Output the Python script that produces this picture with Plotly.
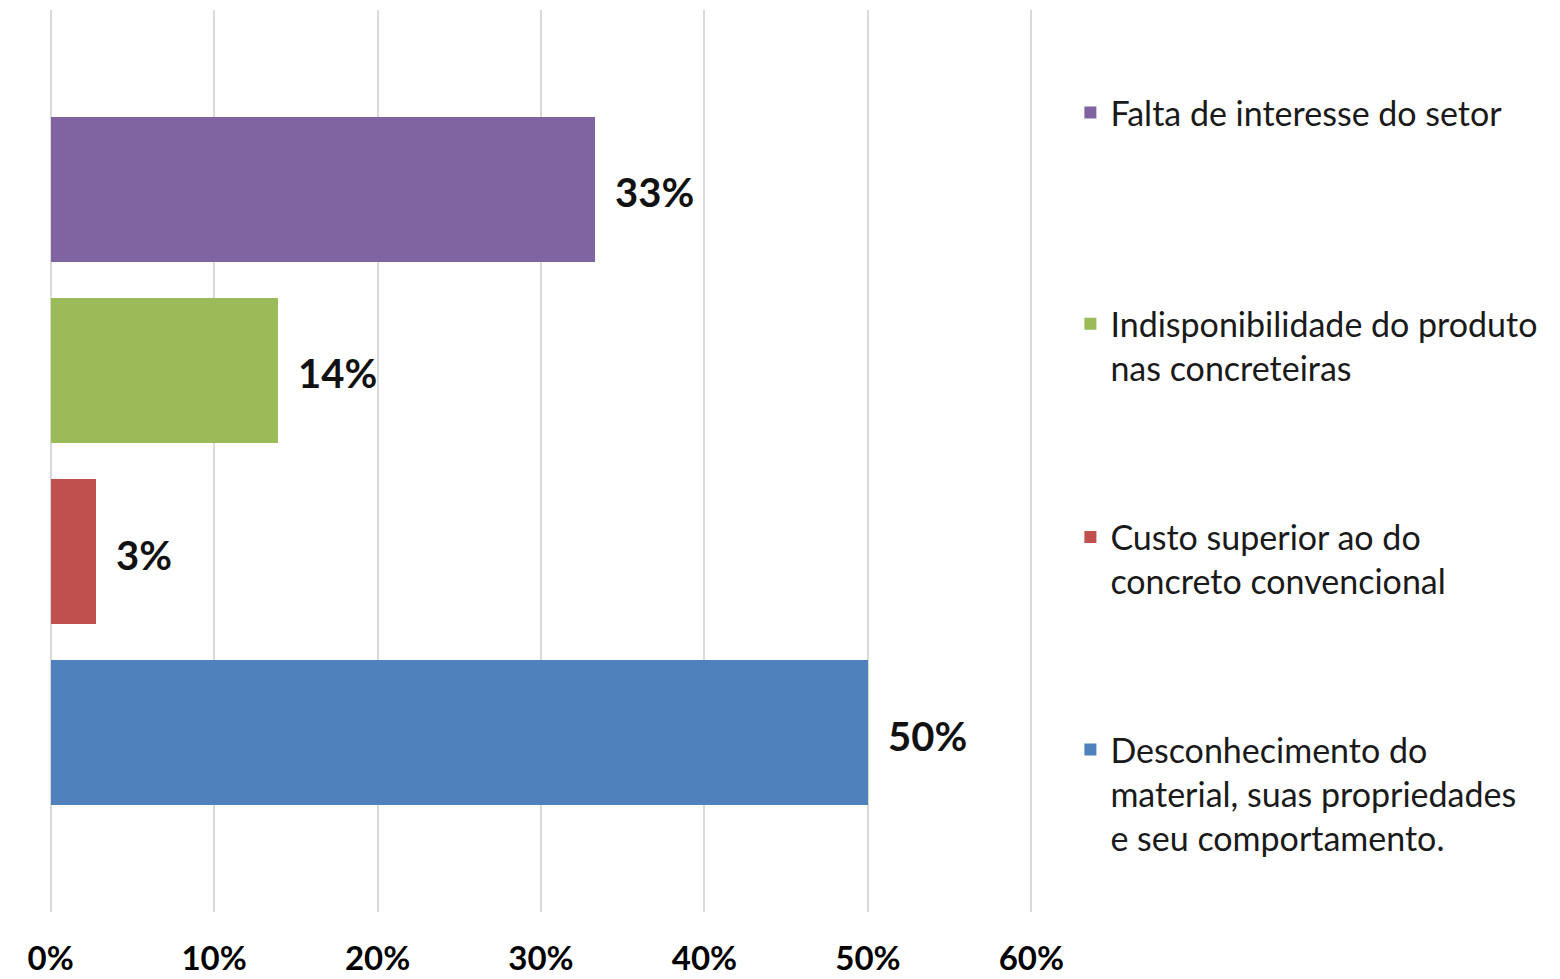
import plotly.graph_objects as go

# Data (bottom to top as drawn)
categories = [
    "Desconhecimento do<br>material, suas propriedades<br>e seu comportamento.",
    "Custo superior ao do<br>concreto convencional",
    "Indisponibilidade do produto<br>nas concreteiras",
    "Falta de interesse do setor",
]
values = [50.0, 2.8, 13.9, 33.3]
labels = ["50%", "3%", "14%", "33%"]
colors = ["#4F81BD", "#C0504D", "#9BBB59", "#8064A2"]
positions = [0, 1, 2, 3]
tick_vals = [0, 10, 20, 30, 40, 50, 60]
tick_text = ["0%", "10%", "20%", "30%", "40%", "50%", "60%"]

legend_names = ["legend4", "legend3", "legend2", "legend"]
legend_y = [0.212, 0.4475, 0.684, 0.918]

fig = go.Figure()
for i in range(len(categories)):
    fig.add_trace(go.Bar(
        x=[values[i]], y=[positions[i]], orientation="h",
        name=categories[i], marker=dict(color=colors[i], line=dict(width=0)),
        width=0.8, legend=legend_names[i], hoverinfo="x+name",
    ))
    fig.add_annotation(
        x=values[i], y=positions[i], text="<b>" + labels[i] + "</b>",
        showarrow=False, xanchor="left", yanchor="middle", xshift=18, yshift=-3,
        font=dict(family="Lato, Open Sans, sans-serif", size=40, color="#111111"),
    )

legend_common = dict(
    x=1.038, xanchor="left", yanchor="top", bgcolor="rgba(0,0,0,0)", valign="top",
    font=dict(family="Lato, Open Sans, sans-serif", size=34, color="#1a1a1a"),
    itemclick=False, itemdoubleclick=False,
)
layout_legends = {}
for i in range(len(categories)):
    layout_legends[legend_names[i]] = dict(y=legend_y[i], **legend_common)

fig.update_layout(
    width=1552, height=971,
    margin=dict(l=41, r=527, t=2, b=67),
    paper_bgcolor="white", plot_bgcolor="white",
    showlegend=True, bargap=0,
    xaxis=dict(
        range=[-0.1, 60.1], tickvals=tick_vals, ticktext=tick_text,
        showgrid=True, gridcolor="#d9d9d9", gridwidth=1.5,
        zeroline=False, showline=False, ticks="", automargin=False,
        ticklabelstandoff=24,
        tickfont=dict(family="Lato, Open Sans, sans-serif", size=33, color="#000000", weight="bold"),
    ),
    yaxis=dict(range=[-0.99, 3.99], showticklabels=False, showgrid=False,
               zeroline=False, showline=False, automargin=False),
    **layout_legends,
)

fig.write_html("out.html")
